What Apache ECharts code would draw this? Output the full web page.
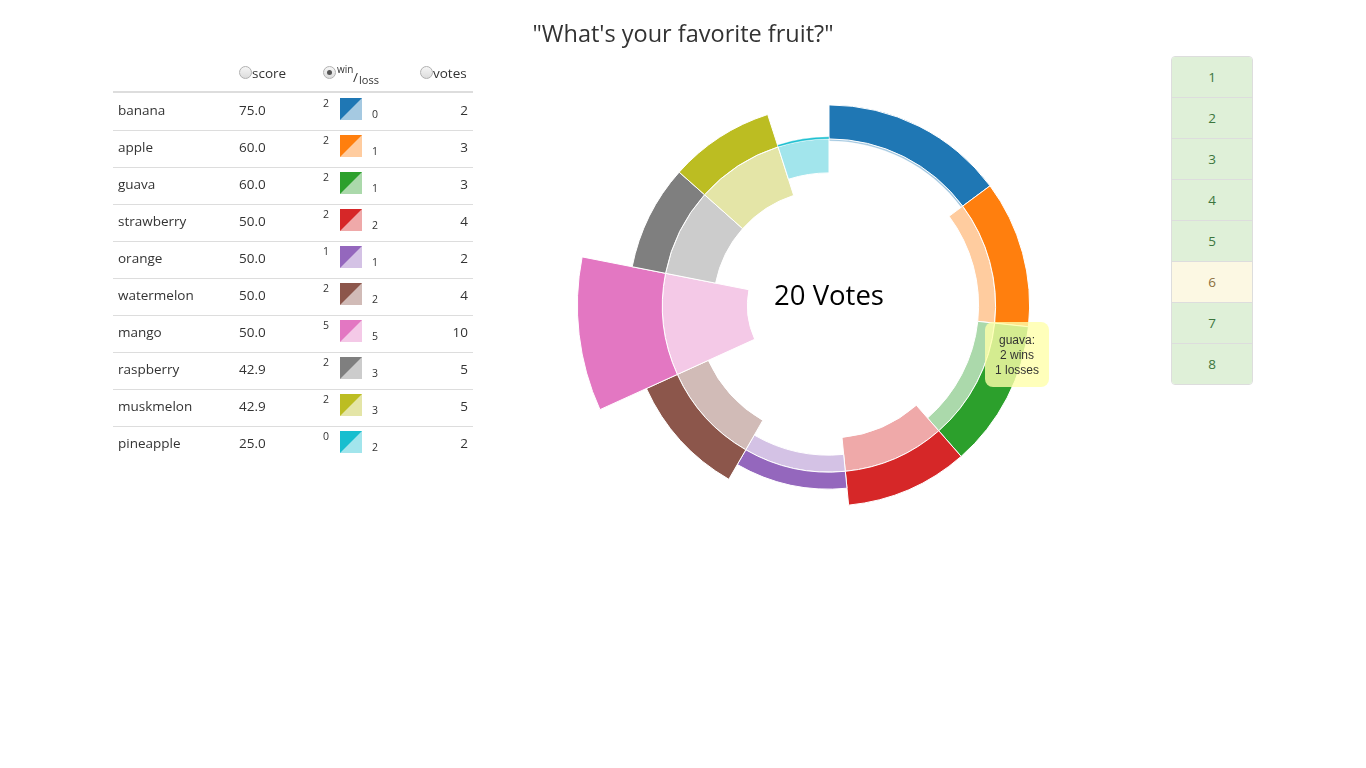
<!DOCTYPE html>
<html>
<head>
<meta charset="utf-8">
<script src="https://cdn.jsdelivr.net/npm/echarts@6/dist/echarts.min.js"></script>
<style>
  html, body { margin: 0; padding: 0; background: #fff; }
  body { width: 1366px; height: 768px; position: relative; overflow: hidden; font-family: 'Open Sans', sans-serif; color: #333; }
  #chart { position: absolute; left: 0; top: 0; width: 1366px; height: 768px; }
  #table { position: absolute; left: 113px; top: 60px; width: 360px; font-size: 13.5px; z-index: 2; }
  .hdr { position: absolute; left: 0; top: 0; width: 360px; height: 31px; border-bottom: 2px solid #ddd; }
  .row { position: absolute; left: 0; width: 360px; height: 37px; border-top: 1px solid #ddd; box-sizing: border-box; }
  .row.first { border-top-color: transparent; }
  .cell { position: absolute; top: 0; line-height: 32px; white-space: nowrap; }
  .sq { position: absolute; top: 4px; left: 227px; width: 22px; height: 22px; }
  .sup { position: absolute; left: 210px; top: 2px; font-size: 10.5px; line-height: 14px; }
  .sub { position: absolute; left: 259px; top: 13px; font-size: 10.5px; line-height: 14px; }
  .radio { position: absolute; width: 11px; height: 11px; border: 1px solid #b0b0b0; border-radius: 50%;
           background: linear-gradient(#f6f6f6, #dcdcdc); box-sizing: content-box; }
  .radio.on::after { content: ''; position: absolute; left: 3px; top: 3px; width: 5px; height: 5px; border-radius: 50%; background: #555; }
  .hlab { position: absolute; font-size: 13.5px; line-height: 16px; white-space: nowrap; }
  #pager { position: absolute; left: 1171px; top: 56px; width: 80px; z-index: 2; border: 1px solid #ddd; border-radius: 4px; overflow: hidden; }
  .pg { height: 40px; border-top: 1px solid #ddd; background: #dff0d8; color: #3c763d; text-align: center; line-height: 40px; font-size: 13.5px; }
  .pg:first-child { border-top: none; }
  .pg.active { background: #fcf8e3; color: #8a6d3b; }
</style>
</head>
<body>
<div id="chart"></div>
<div id="table"></div>
<div id="pager"></div>
<script>
// ---- data ----
var fruits  = ['banana', 'apple', 'guava', 'strawberry', 'orange', 'watermelon', 'mango', 'raspberry', 'muskmelon', 'pineapple'];
var scores  = [75.0, 60.0, 60.0, 50.0, 50.0, 50.0, 50.0, 42.9, 42.9, 25.0];
var wins    = [2, 2, 2, 2, 1, 2, 5, 2, 2, 0];
var losses  = [0, 1, 1, 2, 1, 2, 5, 3, 3, 2];
var votes   = [2, 3, 3, 4, 2, 4, 10, 5, 5, 2];
var totalVotes = 20;
var pages = ['1', '2', '3', '4', '5', '6', '7', '8'];
var activePage = '6';
var tooltipFruit = 'guava';

// ---- colours (category10 dark, light = dark at 40% over white) ----
var darkColors  = ['#1f77b4', '#ff7f0e', '#2ca02c', '#d62728', '#9467bd', '#8c564b', '#e377c2', '#7f7f7f', '#bcbd22', '#17becf'];
function lighten(hex) {
  var n = parseInt(hex.slice(1), 16);
  var r = (n >> 16) & 255, g = (n >> 8) & 255, b = n & 255;
  function m(c) { return Math.round(c * 0.4 + 255 * 0.6); }
  return 'rgb(' + m(r) + ',' + m(g) + ',' + m(b) + ')';
}
var lightColors = darkColors.map(lighten);

// ---- table (HTML) ----
(function () {
  var t = document.getElementById('table');
  var h = '<div class="hdr">' +
    '<span class="radio" style="left:126px;top:6px"></span><span class="hlab" style="left:139px;top:5px">score</span>' +
    '<span class="radio on" style="left:210px;top:6px"></span><span class="hlab" style="left:224px;top:1px;font-size:10px">win</span>' +
    '<span class="hlab" style="left:240px;top:9px">/</span><span class="hlab" style="left:246px;top:12px;font-size:11px">loss</span>' +
    '<span class="radio" style="left:307px;top:6px"></span><span class="hlab" style="left:320px;top:5px">votes</span>' +
    '</div>';
  for (var i = 0; i < fruits.length; i++) {
    h += '<div class="row' + (i === 0 ? ' first' : '') + '" style="top:' + (33 + 37 * i) + 'px">' +
      '<span class="cell" style="left:5px">' + fruits[i] + '</span>' +
      '<span class="cell" style="left:126px">' + scores[i].toFixed(1) + '</span>' +
      '<span class="sup">' + wins[i] + '</span>' +
      '<span class="sq" style="background:linear-gradient(to bottom right,' + darkColors[i] + ' calc(50% - 0.6px),' + lightColors[i] + ' calc(50% + 0.6px))"></span>' +
      '<span class="sub">' + losses[i] + '</span>' +
      '<span class="cell" style="right:5px">' + votes[i] + '</span>' +
      '</div>';
  }
  t.innerHTML = h;
  var p = document.getElementById('pager'), ph = '';
  pages.forEach(function (pg) { ph += '<div class="pg' + (pg === activePage ? ' active' : '') + '">' + pg + '</div>'; });
  p.innerHTML = ph;
})();

// ---- chart ----
var BASE = 9.8;      // radius (vote units) of the circle between losses and wins
var EPS = 0.12;      // minimal drawn thickness for a zero count
var totalScore = scores.reduce(function (a, b) { return a + b; }, 0);
var segData = [];
var acc = 0;
for (var i = 0; i < fruits.length; i++) {
  var s0 = acc, s1 = acc + scores[i];
  segData.push([i, s0, s1, BASE - Math.max(losses[i], EPS), BASE, 0]);
  segData.push([i, s0, s1, BASE, BASE + Math.max(wins[i], EPS), 1]);
  acc = s1;
}

var chart = echarts.init(document.getElementById('chart'), null, { renderer: 'canvas' });
chart.setOption({
  animation: false,
  title: {
    text: '"What\'s your favorite fruit?"',
    left: 'center', top: 18,
    textStyle: { fontFamily: 'Open Sans', fontSize: 23.5, fontWeight: 'normal', color: '#333' }
  },
  polar: { center: [829, 305.5], radius: [0, 255] },
  angleAxis: { type: 'value', min: 0, max: totalScore, startAngle: 90, clockwise: true, show: false },
  radiusAxis: { type: 'value', min: 0, max: 15, show: false },
  tooltip: {
    trigger: 'item', triggerOn: 'none', alwaysShowContent: true, transitionDuration: 0,
    position: [985, 322],
    backgroundColor: 'rgba(255,255,170,0.8)', borderWidth: 0, borderRadius: 8, padding: [11, 8, 9, 8],
    textStyle: { color: '#333', fontSize: 12, fontFamily: 'Liberation Sans' },
    extraCssText: 'box-shadow:none;text-align:center;line-height:15px;width:48px;',
    formatter: function (p) {
      var i = p.value[0];
      return fruits[i] + ':<br>' + wins[i] + ' wins<br>' + losses[i] + ' losses';
    }
  },
  graphic: [{
    type: 'text', x: 829, y: 297,
    style: { text: totalVotes + ' Votes', fontFamily: 'Open Sans', fontSize: 27.5, fill: '#000', align: 'center', verticalAlign: 'middle' }
  }],
  series: [{
    type: 'custom',
    coordinateSystem: 'polar',
    data: segData,
    renderItem: function (params, api) {
      var idx = api.value(0), a0 = api.value(1), a1 = api.value(2);
      var rv0 = api.value(3), rv1 = api.value(4), kind = api.value(5);
      var cs = params.coordSys, cx = cs.cx, cy = cs.cy;
      var pOut0 = api.coord([rv1, a0]), pOut1 = api.coord([rv1, a1]);
      var pIn0 = api.coord([rv0, a0]);
      var rOut = Math.hypot(pOut0[0] - cx, pOut0[1] - cy);
      var rIn = Math.hypot(pIn0[0] - cx, pIn0[1] - cy);
      var sa = Math.atan2(pOut0[1] - cy, pOut0[0] - cx);
      var ea = Math.atan2(pOut1[1] - cy, pOut1[0] - cx);
      if (ea <= sa) ea += Math.PI * 2;
      var thin = (rOut - rIn) < 3;
      return {
        type: 'sector',
        shape: { cx: cx, cy: cy, r0: rIn, r: rOut, startAngle: sa, endAngle: ea, clockwise: true },
        style: { fill: kind === 1 ? darkColors[idx] : lightColors[idx], stroke: '#fff', lineWidth: thin ? 0.4 : 1 }
      };
    }
  }]
});
chart.dispatchAction({ type: 'showTip', seriesIndex: 0, dataIndex: fruits.indexOf(tooltipFruit) * 2 + 1 });
</script>
</body>
</html>
